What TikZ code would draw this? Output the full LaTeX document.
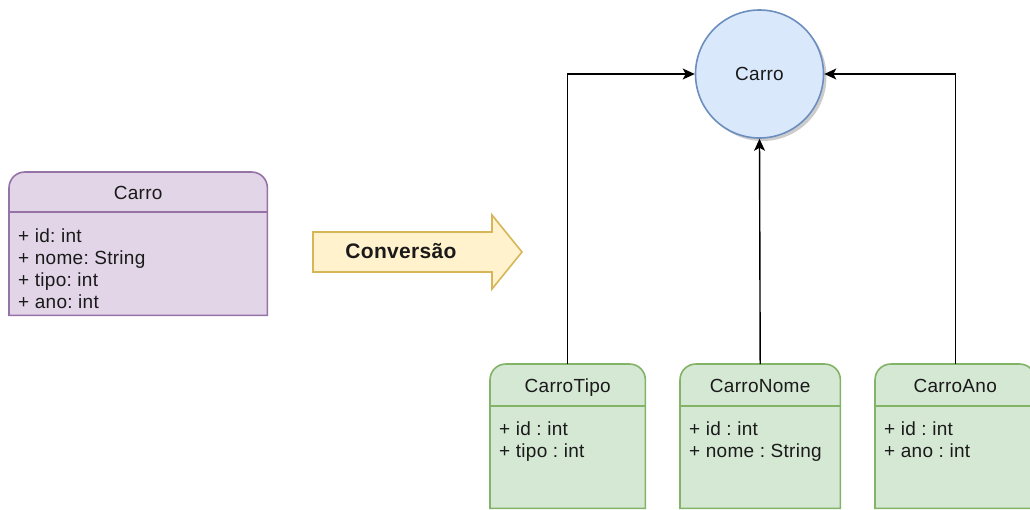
\documentclass[tikz,border=0pt]{standalone}
\usepackage{fontspec}
\setmainfont{Liberation Sans}[LetterSpace=1.5]
\usetikzlibrary{calc,arrows.meta}
\frenchspacing
\definecolor{pfill}{HTML}{E1D5E7}\definecolor{pline}{HTML}{9673A6}
\definecolor{yfill}{HTML}{FFF2CC}\definecolor{yline}{HTML}{D6B656}
\definecolor{bfill}{HTML}{DAE8FC}\definecolor{bline}{HTML}{6C8EBF}
\definecolor{gfill}{HTML}{D5E8D4}\definecolor{gline}{HTML}{82B366}
\definecolor{txt}{HTML}{1A1A1A}
\newcommand\umlpath[1]{(#1.south west) -- ($(#1.north west)+(0,16)$) .. controls ($(#1.north west)+(0,7)$) and ($(#1.north west)+(7,0)$) .. ($(#1.north west)+(16,0)$) -- ($(#1.north east)+(-16,0)$) .. controls ($(#1.north east)+(-7,0)$) and ($(#1.north east)+(0,7)$) .. ($(#1.north east)+(0,16)$) -- (#1.south east) -- cycle}
\newcommand\umlshape[4]{% node, fill, line, header offset
  \begin{scope}[shift={(3,3)}]
    \fill[black,opacity=.2] \umlpath{#1};
  \end{scope}
  \draw[fill=#2,draw=#3,line width=1.6pt] \umlpath{#1};
  \draw[draw=#3,line width=1.6pt] ($(#1.north west)+(0,#4)$) -- ($(#1.north east)+(0,#4)$);
}
\tikzset{
  box/.style={rectangle,inner sep=0pt,anchor=north west},
  lbl/.style={inner sep=0pt,text=txt,font=\fontsize{19}{22}\selectfont},
  attrs/.style={lbl,align=left,anchor=north west},
  conn/.style={line width=1.4pt,-{Stealth[length=12pt,width=11pt,inset=3pt]}},
}
\begin{document}
\begin{tikzpicture}[x=1pt,y=-1pt]
\useasboundingbox (0,0) rectangle (1030,509);
% boxes (invisible frames)
\node[box,minimum width=258pt,minimum height=143pt] (cls) at (9,172) {};
\node[box,minimum width=155pt,minimum height=144pt] (tipo) at (490,364) {};
\node[box,minimum width=160pt,minimum height=144pt] (nome) at (680,364) {};
\node[box,minimum width=160pt,minimum height=144pt] (ano) at (875,364) {};
% left class
\umlshape{cls}{pfill}{pline}{40}
\node[lbl,anchor=base] (clsT) at ($(cls.north)+(0,27.5)$) {Carro};
\node[attrs] (clsA) at ($(cls.north west)+(9,56.5)$) {\rule{0pt}{13.5pt}+ id: int\\+ nome: String\\+ tipo: int\\+ ano: int};
% conversion arrow
\draw[fill=yfill,draw=yline,line width=1.6pt] (313,232) -- (492,232) -- (492,215) -- (522,252) -- (492,289) -- (492,272) -- (313,272) -- cycle;
\node[inner sep=0pt,text=txt,font=\fontsize{21}{24}\selectfont\bfseries] (conv) at (401,251) {Conversão};
% circle
\fill[black,opacity=.2] (762.5,77) circle (64);
\node[circle,minimum size=128pt,inner sep=0pt,fill=bfill,draw=bline,line width=1.6pt,lbl] (carro) at (759.5,74) {Carro};
% green classes
\umlshape{tipo}{gfill}{gline}{42}
\umlshape{nome}{gfill}{gline}{42}
\umlshape{ano}{gfill}{gline}{42}
\node[lbl,anchor=base] (tipoT) at ($(tipo.north)+(0,28.5)$) {CarroTipo};
\node[lbl,anchor=base] (nomeT) at ($(nome.north)+(0,28.5)$) {CarroNome};
\node[lbl,anchor=base] (anoT) at ($(ano.north)+(0,28.5)$) {CarroAno};
\node[attrs] (tipoA) at ($(tipo.north west)+(9,57.5)$) {\rule{0pt}{13.5pt}+ id : int\\+ tipo : int};
\node[attrs] (nomeA) at ($(nome.north west)+(9,57.5)$) {\rule{0pt}{13.5pt}+ id : int\\+ nome : String};
\node[attrs] (anoA) at ($(ano.north west)+(9,57.5)$) {\rule{0pt}{13.5pt}+ id : int\\+ ano : int};
% connectors
\draw[conn] (tipo.north) |- (carro.west);
\draw[conn] (nome.north) -- (carro.south);
\draw[conn] (ano.north) |- (carro.east);
\end{tikzpicture}
\end{document}
